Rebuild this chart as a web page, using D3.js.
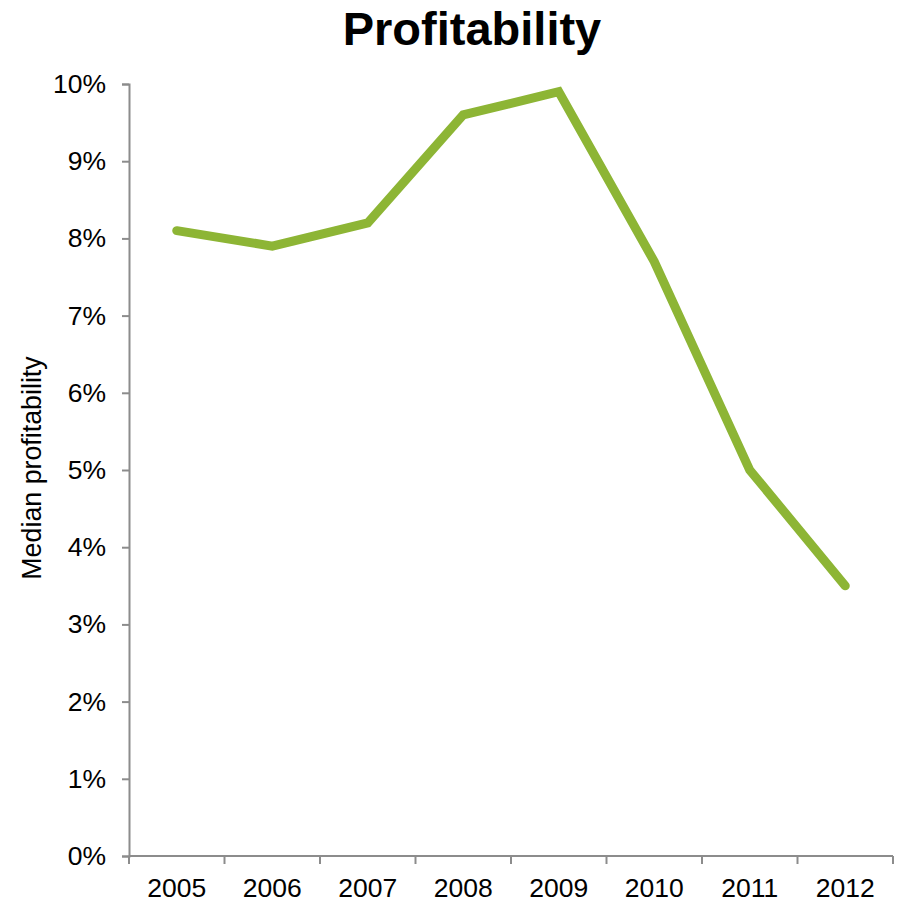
<!DOCTYPE html>
<html>
<head>
<meta charset="utf-8">
<script src="https://cdn.jsdelivr.net/npm/d3@7"></script>
<style>
  html, body { margin: 0; padding: 0; background: #fff; }
  svg text { font-family: "Liberation Sans", Arial, sans-serif; fill: #000; }
</style>
</head>
<body>
<svg id="chart" width="902" height="903"></svg>
<script>
// Median profitability by year
const years = ["2005", "2006", "2007", "2008", "2009", "2010", "2011", "2012"];
const profitability = [8.1, 7.9, 8.2, 9.6, 9.9, 7.7, 5.0, 3.5];
const yTicks = [0, 1, 2, 3, 4, 5, 6, 7, 8, 9, 10];

const svg = d3.select("#chart");
const margin = { left: 129, right: 9, top: 84, bottom: 47 };
const W = 902, H = 903;

const x = d3.scaleBand()
  .domain(years)
  .range([margin.left, W - margin.right]);

const y = d3.scaleLinear()
  .domain([0, 10])
  .range([H - margin.bottom, margin.top]);

const axisColor = "#8c8c8c";
const labelSize = "26.5px";

// Title
svg.append("text")
  .attr("x", 472)
  .attr("y", 45)
  .attr("text-anchor", "middle")
  .style("font-size", "47px")
  .style("font-weight", "bold")
  .text("Profitability");

// Y axis
const yAxis = svg.append("g")
  .attr("transform", `translate(${margin.left},0)`)
  .call(d3.axisLeft(y).tickValues(yTicks).tickSize(7).tickPadding(16)
    .tickFormat(d => d + "%"));
yAxis.select(".domain").attr("stroke", axisColor).attr("stroke-width", 2);
yAxis.selectAll(".tick line").attr("stroke", axisColor).attr("stroke-width", 2);
yAxis.selectAll(".tick text")
  .style("font-size", labelSize)
  .style("font-family", "'Liberation Sans', Arial, sans-serif")
  .attr("fill", "#000");

// X axis with ticks at band boundaries
const xAxisG = svg.append("g")
  .attr("transform", `translate(0,${y(0)})`);
xAxisG.append("line")
  .attr("x1", margin.left).attr("x2", W - margin.right)
  .attr("stroke", axisColor).attr("stroke-width", 2);
const bounds = years.map(d => x(d)).concat([x(years[years.length - 1]) + x.bandwidth()]);
xAxisG.selectAll("line.tick")
  .data(bounds)
  .join("line")
  .attr("class", "tick")
  .attr("x1", d => d).attr("x2", d => d)
  .attr("y1", 0).attr("y2", 8)
  .attr("stroke", axisColor).attr("stroke-width", 2);
xAxisG.selectAll("text")
  .data(years)
  .join("text")
  .attr("x", d => x(d) + x.bandwidth() / 2)
  .attr("y", 41)
  .attr("text-anchor", "middle")
  .style("font-size", labelSize)
  .text(d => d);

// Y axis title
svg.append("text")
  .attr("transform", "translate(41,468) rotate(-90)")
  .attr("text-anchor", "middle")
  .style("font-size", "26.8px")
  .text("Median profitability");

// Profitability line
const line = d3.line()
  .x((d, i) => x(years[i]) + x.bandwidth() / 2)
  .y(d => y(d));

svg.append("path")
  .datum(profitability)
  .attr("d", line)
  .attr("fill", "none")
  .attr("stroke", "#8db535")
  .attr("stroke-width", 9)
  .attr("stroke-linecap", "round")
  .attr("stroke-linejoin", "miter");
</script>
</body>
</html>
